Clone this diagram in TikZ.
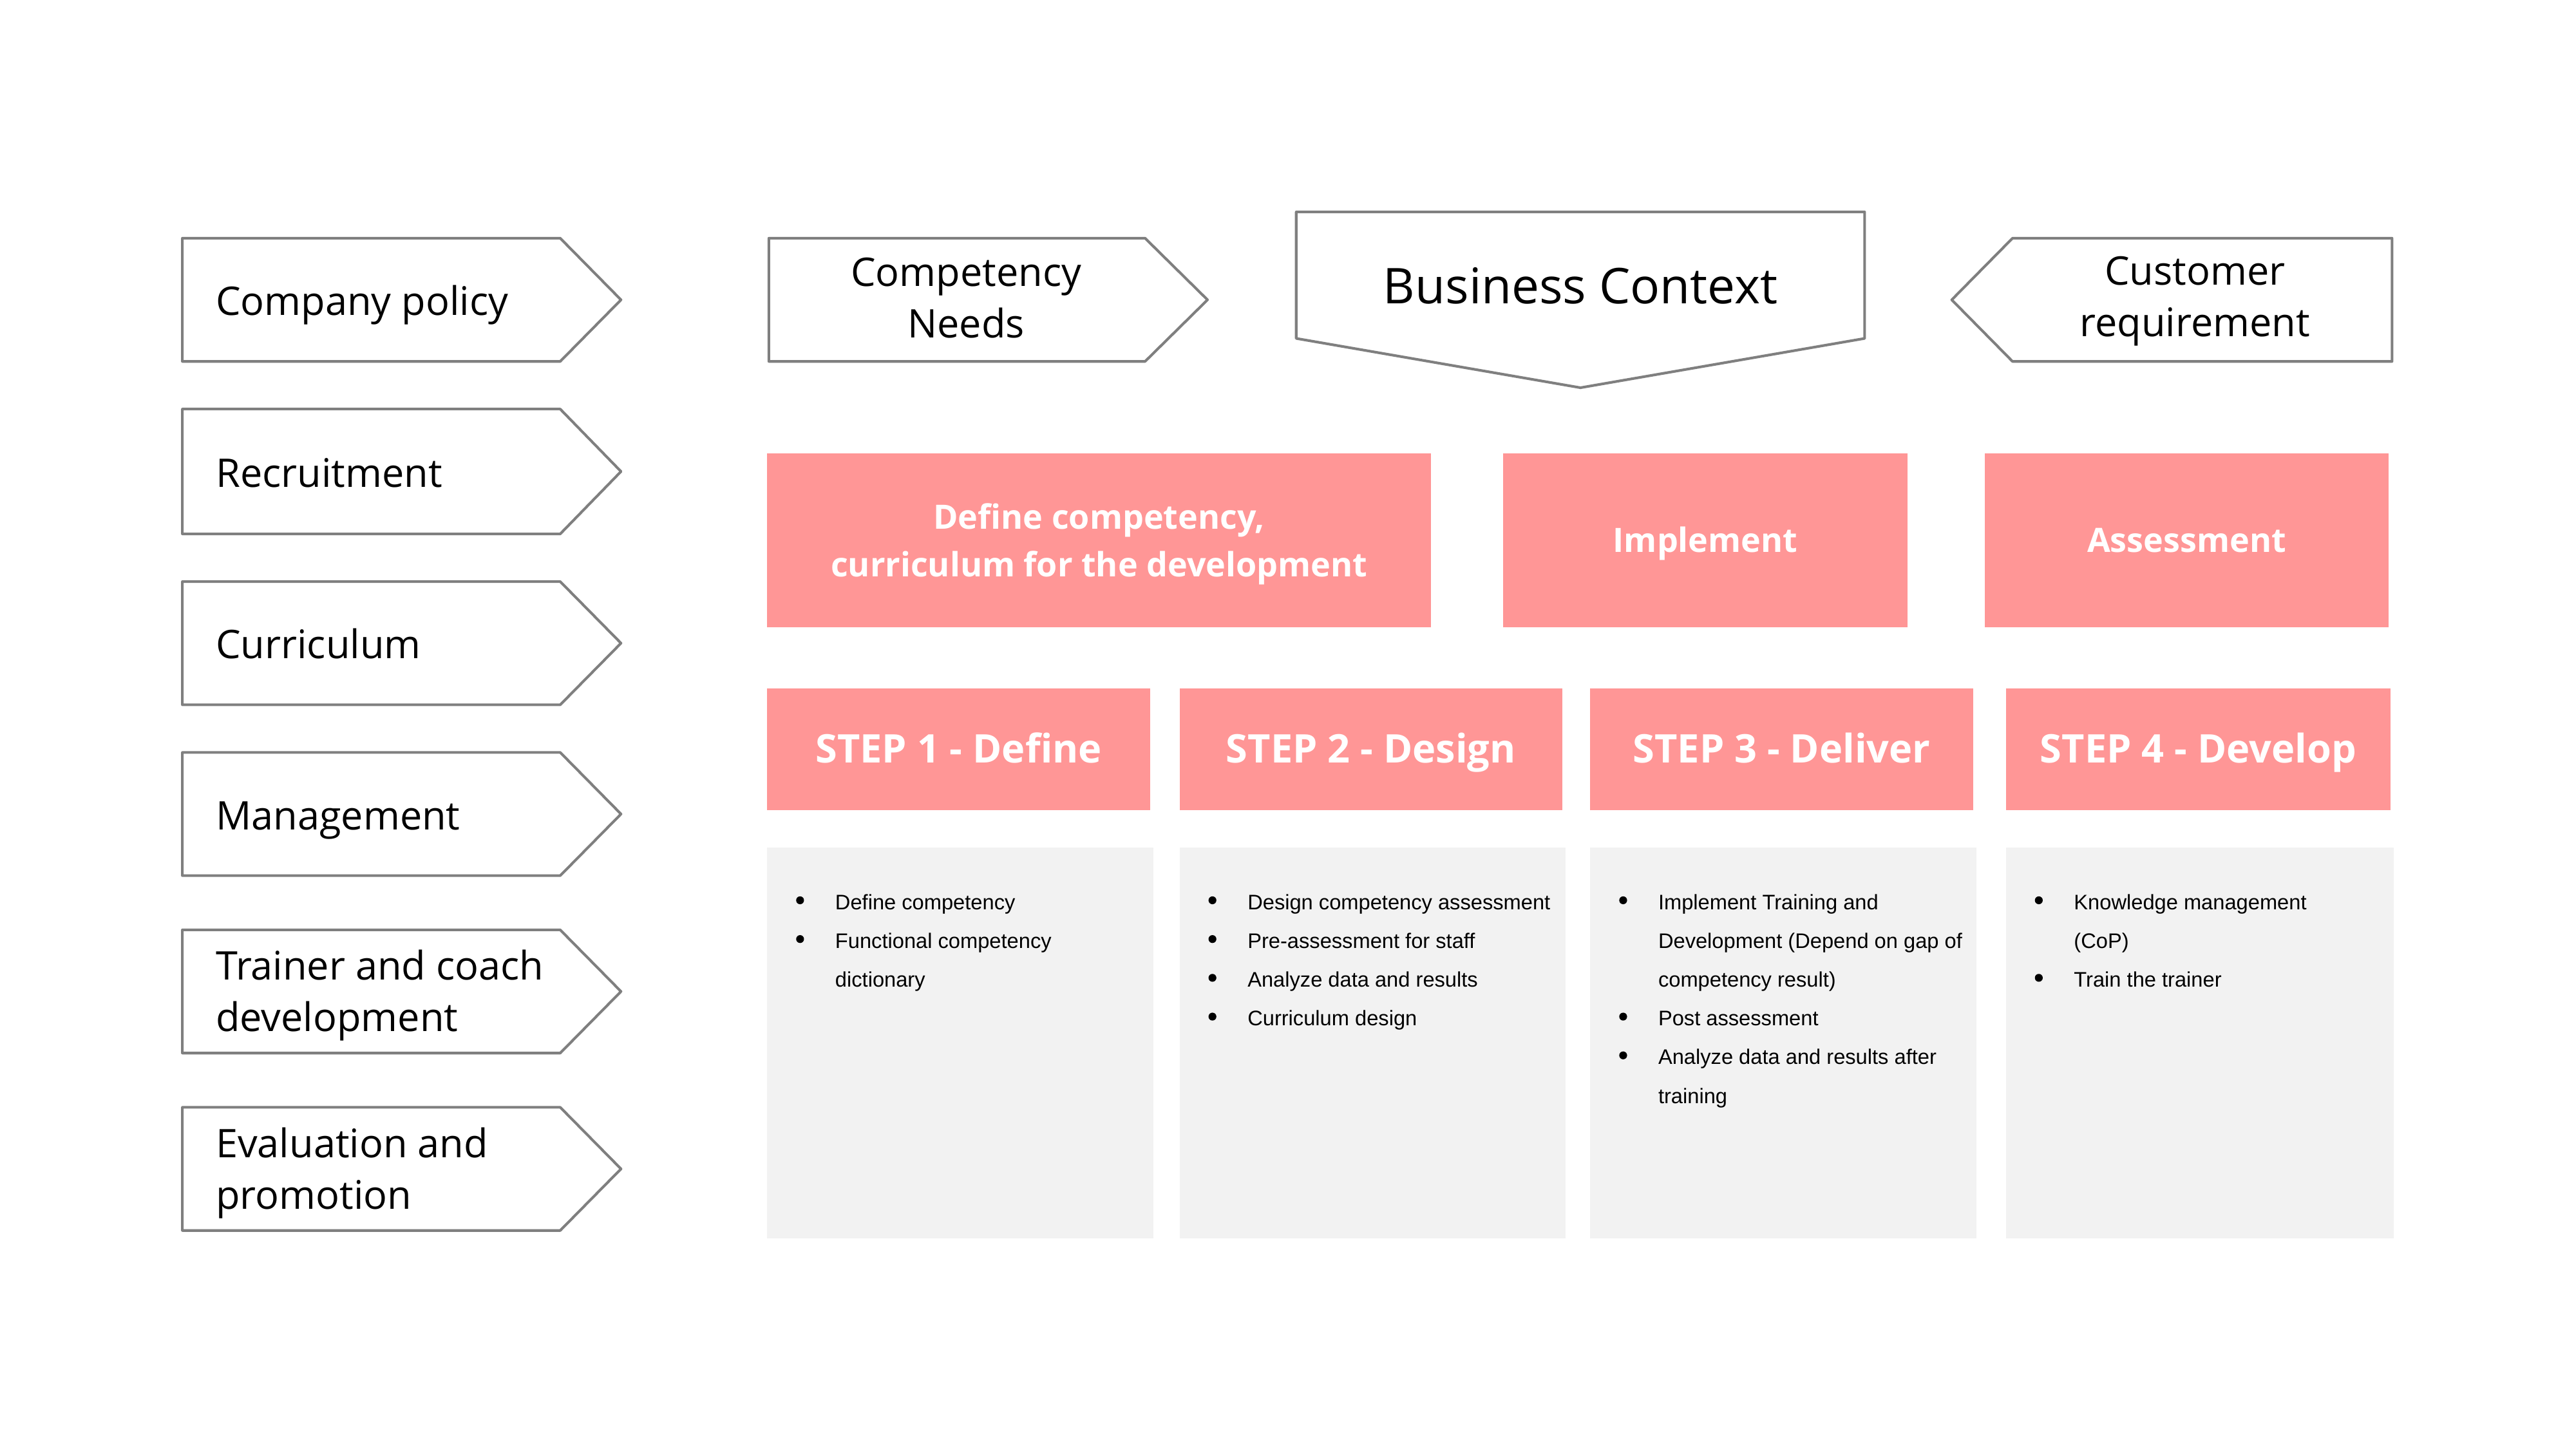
\documentclass[tikz,border=0pt]{standalone}
\usepackage{fontspec}
\setmainfont{Open Sans}
\newfontfamily\bulfont{Liberation Sans}
\definecolor{pinkfill}{RGB}{255,150,150}
\definecolor{grayfill}{RGB}{242,242,242}
\definecolor{edgegray}{RGB}{127,127,127}
\begin{document}
\begin{tikzpicture}[x=0.5pt,y=-0.5pt,
  outline/.style={draw=edgegray, line width=0.8pt, fill=white, line join=round},
  lbl/.style={font=\fontsize{12}{15.7}\selectfont, align=left, anchor=west, inner sep=0pt},
  slbl/.style={font=\fontsize{12}{15.7}\selectfont, anchor=base west, inner sep=0pt},
  clbl/.style={font=\fontsize{12}{15.7}\selectfont, align=center, inner sep=0pt},
  pinktxt/.style={font=\fontsize{10.2}{14.5}\selectfont\bfseries, text=white, align=center, inner sep=0pt},
  steptxt/.style={font=\fontsize{12}{14}\selectfont\bfseries, text=white, inner sep=0pt, anchor=base},
  bultext/.style={font=\bulfont\fontsize{6.4}{8}\selectfont, anchor=base west, inner sep=0pt}
]
\useasboundingbox (0,0) rectangle (1568,882);
\fill[white] (0,0) rectangle (1568,882);

% left arrows
\foreach \n/\yt/\yb in {a/145/220, b/249/325, c/354/429, d/458/533, e/566/641, f/674/749}{
  \draw[outline] (111,\yt) -- (341,\yt) -- (378,{(\yt+\yb)/2}) -- (341,\yb) -- (111,\yb) -- cycle;
}
\node[slbl] (lcp) at (131,192) {Company policy};
\node[slbl] (lrec) at (131,296.5) {Recruitment};
\node[slbl] (lcur) at (131,401) {Curriculum};
\node[slbl] (lman) at (131,505) {Management};
\node[lbl] (ltra) at (131,606) {Trainer and coach\\development};
\node[lbl] (leva) at (131,714) {Evaluation and\\promotion};

% top row shapes
\draw[outline] (468,145) -- (697,145) -- (735,182.5) -- (697,220) -- (468,220) -- cycle;
\node[clbl] (cn) at (588,181.5) {Competency\\Needs};
\draw[outline] (789,129) -- (1135,129) -- (1135,206) -- (962,236) -- (789,206) -- cycle;
\node[clbl, font=\fontsize{15}{18}\selectfont] (bc) at (962,174) {Business Context};
\draw[outline] (1225,145) -- (1456,145) -- (1456,220) -- (1225,220) -- (1188,182.5) -- cycle;
\node[clbl] (cr) at (1336,183.5) {Customer\\requirement};

% pink boxes
\fill[pinkfill] (467,276) rectangle (871,382);
\fill[pinkfill] (915,276) rectangle (1161,382);
\fill[pinkfill] (1208,276) rectangle (1454,382);
\node[pinktxt] (p1) at (669,331) {Define competency,\\curriculum for the development};
\node[pinktxt, anchor=base] (p2) at (1038,336) {Implement};
\node[pinktxt, anchor=base] (p3) at (1331,336) {Assessment};

% step boxes
\fill[pinkfill] (467,419) rectangle (700,493);
\fill[pinkfill] (718,419) rectangle (951,493);
\fill[pinkfill] (968,419) rectangle (1201,493);
\fill[pinkfill] (1221,419) rectangle (1455,493);
\node[steptxt] (s1) at (583.5,464.5) {STEP 1 - Define};
\node[steptxt] (s2) at (834.5,464.5) {STEP 2 - Design};
\node[steptxt] (s3) at (1084.5,464.5) {STEP 3 - Deliver};
\node[steptxt] (s4) at (1338,464.5) {STEP 4 - Develop};

% gray boxes
\fill[grayfill] (467,516) rectangle (702,754);
\fill[grayfill] (718,516) rectangle (953,754);
\fill[grayfill] (968,516) rectangle (1203,754);
\fill[grayfill] (1221,516) rectangle (1457,754);

\foreach \c/\r/\b/\t in {
 467/1/1/Define competency,
 467/2/1/Functional competency,
 467/3/0/dictionary,
 718/1/1/Design competency assessment,
 718/2/1/Pre-assessment for staff,
 718/3/1/Analyze data and results,
 718/4/1/Curriculum design,
 968/1/1/Implement Training and,
 968/2/0/Development (Depend on gap of,
 968/3/0/competency result),
 968/4/1/Post assessment,
 968/5/1/Analyze data and results after,
 968/6/0/training,
 1221/1/1/Knowledge management,
 1221/2/0/(CoP),
 1221/3/1/Train the trainer}{
  \node[bultext] (t\c-\r) at (\c+41,{553.5+(\r-1)*23.6}) {\t};
  \ifnum\b=1 \fill[black] (\c+20,{548+(\r-1)*23.6}) circle[radius=1.2pt]; \fi
}
\end{tikzpicture}
\end{document}
